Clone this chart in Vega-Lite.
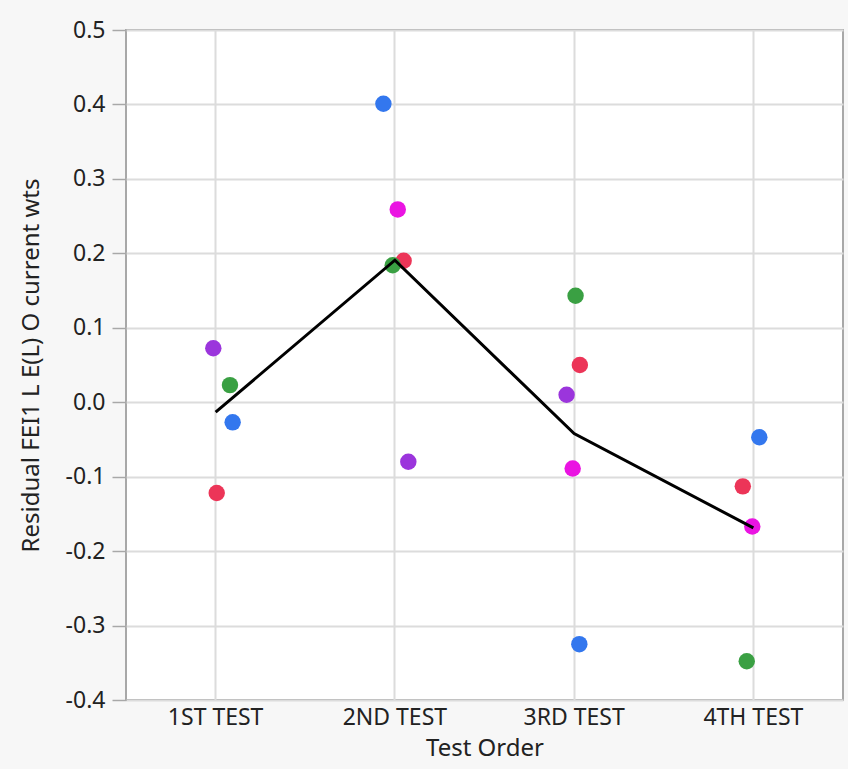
{
  "$schema": "https://vega.github.io/schema/vega-lite/v6.json",
  "autosize": {"type": "none"},
  "padding": {"left": 126, "top": 30, "right": 5, "bottom": 69},
  "width": 717,
  "height": 670,
  "background": "#f7f7f7",
  "config": {
    "view": {"fill": "white", "stroke": "#a8a8a8", "strokeWidth": 2},
    "font": "Noto Sans",
    "axis": {
      "gridColor": "#dcdcdc",
      "gridWidth": 2,
      "domain": false,
      "labelColor": "#222222",
      "titleColor": "#222222",
      "titleFontWeight": "normal",
      "labelFontSize": 23,
      "titleFontSize": 24
    }
  },
  "data": {
    "values": [
      {"test": "1ST TEST", "series": "S4", "jitter": -0.013, "residual": 0.0725},
      {"test": "1ST TEST", "series": "S3", "jitter": 0.080, "residual": 0.023},
      {"test": "1ST TEST", "series": "S1", "jitter": 0.095, "residual": -0.027},
      {"test": "1ST TEST", "series": "S2", "jitter": 0.006, "residual": -0.122},
      {"test": "2ND TEST", "series": "S1", "jitter": -0.064, "residual": 0.401},
      {"test": "2ND TEST", "series": "S5", "jitter": 0.016, "residual": 0.259},
      {"test": "2ND TEST", "series": "S2", "jitter": 0.049, "residual": 0.190},
      {"test": "2ND TEST", "series": "S3", "jitter": -0.012, "residual": 0.184},
      {"test": "2ND TEST", "series": "S4", "jitter": 0.075, "residual": -0.080},
      {"test": "3RD TEST", "series": "S3", "jitter": 0.008, "residual": 0.143},
      {"test": "3RD TEST", "series": "S2", "jitter": 0.032, "residual": 0.050},
      {"test": "3RD TEST", "series": "S4", "jitter": -0.042, "residual": 0.010},
      {"test": "3RD TEST", "series": "S5", "jitter": -0.008, "residual": -0.089},
      {"test": "3RD TEST", "series": "S1", "jitter": 0.029, "residual": -0.325},
      {"test": "4TH TEST", "series": "S1", "jitter": 0.033, "residual": -0.047},
      {"test": "4TH TEST", "series": "S2", "jitter": -0.059, "residual": -0.113},
      {"test": "4TH TEST", "series": "S5", "jitter": -0.006, "residual": -0.167},
      {"test": "4TH TEST", "series": "S3", "jitter": -0.037, "residual": -0.348}
    ]
  },
  "encoding": {
    "x": {
      "field": "test",
      "type": "nominal",
      "sort": ["1ST TEST", "2ND TEST", "3RD TEST", "4TH TEST"],
      "scale": {"type": "band", "paddingInner": 0, "paddingOuter": 0},
      "axis": {
        "title": "Test Order",
        "labelAngle": 0,
        "ticks": false,
        "grid": true,
        "bandPosition": 0.5,
        "labelPadding": 6,
        "titlePadding": 7
      }
    }
  },
  "layer": [
    {
      "mark": {"type": "circle", "size": 270, "opacity": 1},
      "encoding": {
        "xOffset": {"field": "jitter", "type": "quantitative", "scale": {"domain": [-0.5, 0.5]}},
        "y": {
          "field": "residual",
          "type": "quantitative",
          "scale": {"domain": [-0.4, 0.5], "nice": false, "zero": false},
          "axis": {
            "title": "Residual FEI1 L E(L) O current wts",
            "values": [-0.4, -0.3, -0.2, -0.1, 0, 0.1, 0.2, 0.3, 0.4, 0.5],
            "labelExpr": "replace(format(datum.value, '.1f'), '\u2212', '-')",
            "grid": true,
            "tickColor": "#a8a8a8",
            "tickSize": 14,
            "tickWidth": 1.5,
            "labelPadding": 7,
            "labelFlush": false,
            "titlePadding": 22
          }
        },
        "color": {
          "field": "series",
          "type": "nominal",
          "scale": {
            "domain": ["S1", "S2", "S3", "S4", "S5"],
            "range": ["#3377ee", "#ec3558", "#3aa043", "#9b35dc", "#ea14e2"]
          },
          "legend": null
        }
      }
    },
    {
      "mark": {"type": "line", "color": "black", "strokeWidth": 3},
      "encoding": {
        "y": {"aggregate": "mean", "field": "residual", "type": "quantitative"}
      }
    }
  ]
}
